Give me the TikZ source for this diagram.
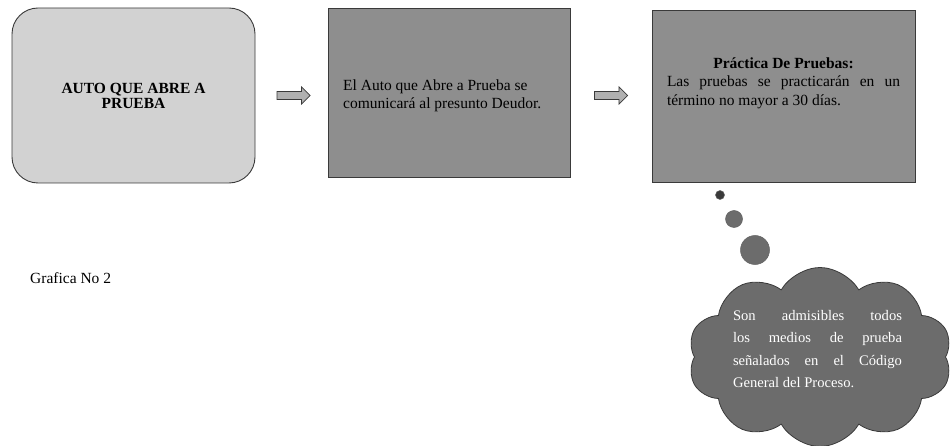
\documentclass[tikz,border=0pt]{standalone}
\usepackage{fontspec}
\setmainfont{Liberation Serif}
\usetikzlibrary{shapes.symbols,shapes.arrows}
\definecolor{boxlight}{HTML}{D2D2D2}
\definecolor{boxmid}{HTML}{8E8E8E}
\definecolor{clouddark}{HTML}{6C6C6C}
\definecolor{edge}{HTML}{3A3A3A}
\tikzset{
  stepbox/.style={draw=edge, line width=0.9pt, inner sep=0pt},
  blockarrow/.style={single arrow, draw=edge, fill=boxmid!70, line width=0.7pt,
    inner sep=3.7pt, minimum height=33pt, single arrow head extend=4.5pt},
  txt/.style={inner sep=0pt, font=\fontsize{15.5}{18}\selectfont},
  bubble/.style={circle, draw=edge!80, fill=clouddark, inner sep=0pt, line width=0.5pt}
}
\begin{document}
\begin{tikzpicture}[x=1pt,y=-1pt]
\useasboundingbox (0,0) rectangle (952,446);
% boxes
\node[stepbox, fill=boxlight, rounded corners=26pt, minimum width=243pt, minimum height=175pt] (b1) at (133.5,95.5) {};
\node[stepbox, fill=boxmid, minimum width=242pt, minimum height=169pt] (b2) at (449,92.5) {};
\node[stepbox, fill=boxmid, minimum width=263pt, minimum height=172pt] (b3) at (783.5,96) {};
% texts
\node[txt, align=center, font=\fontsize{15.5}{15.5}\selectfont\bfseries] (t1) at (133.5,96) {AUTO QUE ABRE A\\PRUEBA};
\node[txt, align=left, anchor=west] (t2) at (343,96) {El Auto que Abre a Prueba se\\comunicará al presunto Deudor.};
\node[txt, text width=233pt, align=justify, anchor=north, font=\fontsize{15.5}{18.5}\selectfont] (t3) at (783.5,57.5)
  {\makebox[233pt]{\bfseries Práctica De Pruebas:}\par
   Las pruebas se practicarán en un\linebreak término no mayor a 30 días.};
% arrows
\node[blockarrow] (a1) at (291.5,95.5) {};
\node[blockarrow] (a2) at (609,95.5) {};
% thought bubbles
\node[bubble, minimum size=9pt, fill=edge] (c1) at (720,195) {};
\node[bubble, minimum size=17pt] (c2) at (734,219) {};
\node[bubble, minimum size=29pt] (c3) at (755,250) {};
\node[cloud, cloud puffs=10, cloud puff arc=120, aspect=1.5, draw=edge, fill=clouddark,
  line width=0.8pt, minimum width=264pt, minimum height=179pt, inner sep=0pt] (cl) at (820,357) {};
\node[txt, text width=169pt, align=justify, text=white, font=\fontsize{14.6}{22.3}\selectfont] (t4) at (817.5,349)
  {Son admisibles todos\linebreak los medios de prueba\linebreak señalados en el Código\linebreak General del Proceso.};
% caption
\node[txt, anchor=west] (cap) at (30,278) {Grafica No 2};
\end{tikzpicture}
\end{document}
